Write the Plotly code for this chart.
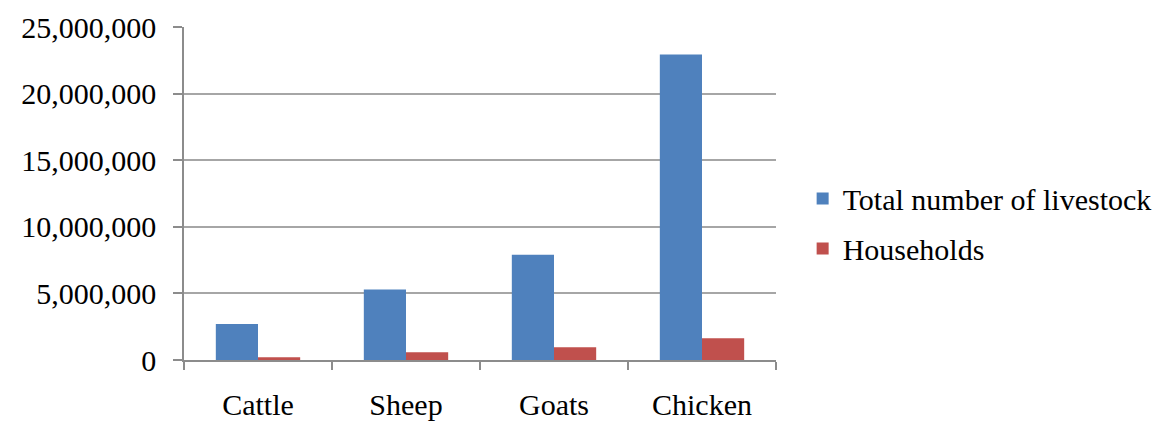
import plotly.graph_objects as go

categories = ["Cattle", "Sheep", "Goats", "Chicken"]
livestock_total = [2700000, 5300000, 7900000, 22930000]
households = [200000, 580000, 950000, 1630000]
y_ticks = [0, 5000000, 10000000, 15000000, 20000000, 25000000]

BLUE = "#4F81BD"
RED = "#C0504D"
AXIS_GREY = "#8C8C8C"
GRID_GREY = "#A6A6A6"
FONT = "Liberation Serif"
FS = 30

fig = go.Figure()
fig.add_trace(go.Bar(
    name="Total number of livestock", x=categories, y=livestock_total,
    marker=dict(color=BLUE, line=dict(width=0)), legendgroup="a",
))
fig.add_trace(go.Bar(
    name="Households", x=categories, y=households,
    marker=dict(color=RED, line=dict(width=0)), legendgroup="b",
))

fig.update_layout(
    width=1174, height=422,
    margin=dict(l=184, r=398, t=27, b=62, autoexpand=False),
    paper_bgcolor="white", plot_bgcolor="white",
    barmode="group", bargap=0.43, bargroupgap=0,
    font=dict(family=FONT, size=FS, color="black"),
    showlegend=True,
    legend=dict(
        x=1.045, xanchor="left", y=0.41, yanchor="middle",
        font=dict(family=FONT, size=FS, color="black"),
        tracegroupgap=8, itemwidth=30, bgcolor="rgba(0,0,0,0)",
    ),
    xaxis=dict(
        showgrid=False, showline=True, linecolor=AXIS_GREY, linewidth=1.5,
        ticks="outside", tickson="boundaries", ticklen=8, tickcolor=AXIS_GREY,
        tickwidth=1.5, ticklabelstandoff=17, automargin=False,
        tickfont=dict(family=FONT, size=FS, color="black"),
    ),
    yaxis=dict(
        range=[0, 25000000], tickvals=y_ticks, tickformat=",",
        showgrid=True, gridcolor=GRID_GREY, gridwidth=1.5,
        showline=True, linecolor=AXIS_GREY, linewidth=1.5,
        ticks="outside", ticklen=9, tickcolor=AXIS_GREY, tickwidth=1.5,
        ticklabelstandoff=11, zeroline=False, automargin=False,
        tickfont=dict(family=FONT, size=FS, color="black"),
    ),
)

fig.write_html("out.html")
